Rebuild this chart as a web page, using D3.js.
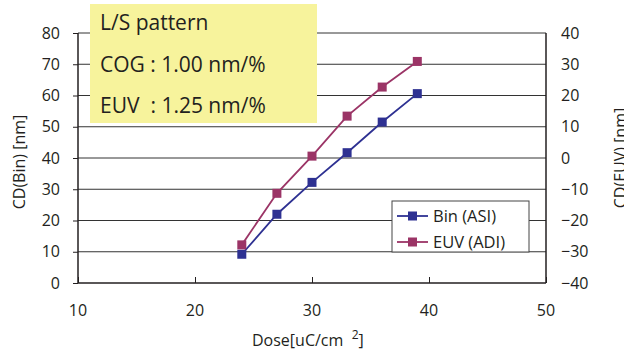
<!DOCTYPE html>
<html>
<head>
<meta charset="utf-8">
<script src="https://cdn.jsdelivr.net/npm/d3@7"></script>
<style>
  body { margin: 0; background: #fff; }
  text { font-family: "Open Sans", "DejaVu Sans", sans-serif; fill: #231f20; }
</style>
</head>
<body>
<svg width="624" height="353"></svg>
<script>
// Dose values (uC/cm2) shared by both series
const dose = [24, 27, 30, 33, 36, 39];
// CD(Bin) on the left axis
const binASI = [9.2, 22.0, 32.2, 41.7, 51.5, 60.6];
// CD(EUV) on the right axis
const euvADI = [-27.8, -11.3, 0.6, 13.4, 22.7, 30.9];

const xTicks = [10, 20, 30, 40, 50];
const leftTicks = [0, 10, 20, 30, 40, 50, 60, 70, 80];
const rightTicks = [-40, -30, -20, -10, 0, 10, 20, 30, 40];
const noteLines = ["L/S pattern", "COG : 1.00 nm/%", "EUV  : 1.25 nm/%"];
const seriesNames = ["Bin (ASI)", "EUV (ADI)"];

const blue = "#2e3192";
const purple = "#9b3466";

const svg = d3.select("svg");
const margin = {top: 33, right: 78, bottom: 70, left: 78};
const width = +svg.attr("width");
const height = +svg.attr("height");

const x = d3.scaleLinear().domain([10, 50]).range([margin.left, width - margin.right]);
const yL = d3.scaleLinear().domain([0, 80]).range([height - margin.bottom, margin.top]);
const yR = d3.scaleLinear().domain([-40, 40]).range([height - margin.bottom, margin.top]);

// gridlines
svg.append("g")
  .selectAll("line")
  .data(leftTicks.slice(1))
  .enter().append("line")
    .attr("x1", x(10)).attr("x2", x(50))
    .attr("y1", d => yL(d)).attr("y2", d => yL(d))
    .attr("stroke", "#333").attr("stroke-width", 1);

// frame: left, right, bottom
const frame = svg.append("g").attr("stroke", "#231f20").attr("stroke-width", 1.5);
frame.append("line").attr("x1", x(10)).attr("x2", x(10)).attr("y1", yL(80)).attr("y2", yL(0));
frame.append("line").attr("x1", x(50)).attr("x2", x(50)).attr("y1", yL(80)).attr("y2", yL(0));
frame.append("line").attr("x1", x(10)).attr("x2", x(50)).attr("y1", yL(0)).attr("y2", yL(0));

// axes
const xAxis = svg.append("g")
    .attr("transform", `translate(0,${yL(0)})`)
    .call(d3.axisTop(x).tickValues(xTicks).tickSize(6).tickFormat(""));
xAxis.select(".domain").remove();
xAxis.selectAll("line").attr("stroke", "#231f20");
svg.append("g").selectAll("text")
  .data(xTicks)
  .enter().append("text")
    .attr("x", d => x(d)).attr("y", yL(0) + 33)
    .attr("text-anchor", "middle").attr("font-size", "16px")
    .text(d => d);

const leftAxis = svg.append("g")
    .attr("transform", `translate(${x(10)},0)`)
    .call(d3.axisLeft(yL).tickValues(leftTicks).tickSize(5).tickPadding(13));
leftAxis.select(".domain").remove();
leftAxis.selectAll("line").attr("stroke", "#231f20");
leftAxis.selectAll("text").attr("font-size", "16px").attr("fill", "#231f20")
  .style("font-family", "'Open Sans', sans-serif");

const rightAxis = svg.append("g")
    .attr("transform", `translate(${x(50)},0)`)
    .call(d3.axisRight(yR).tickValues(rightTicks).tickSize(0).tickPadding(15));
rightAxis.select(".domain").remove();
rightAxis.selectAll("text").attr("font-size", "16px").attr("fill", "#231f20")
  .style("font-family", "'Open Sans', sans-serif");

// axis titles
svg.append("text")
  .attr("transform", `translate(25,${(yL(0) + yL(80)) / 2 + 4}) rotate(-90)`)
  .attr("text-anchor", "middle").attr("font-size", "16px")
  .text("CD(Bin) [nm]");
svg.append("text")
  .attr("transform", `translate(626,${(yL(0) + yL(80)) / 2}) rotate(-90)`)
  .attr("text-anchor", "middle").attr("font-size", "16px")
  .text("CD(EUV) [nm]");
const xt = svg.append("text")
  .attr("x", 252).attr("y", 346).attr("font-size", "16px")
  .attr("xml:space", "preserve").style("white-space", "pre");
xt.append("tspan").text("Dose[uC/cm  ");
xt.append("tspan").attr("dy", -7).attr("font-size", "12px").text("2");
xt.append("tspan").attr("dy", 7).text("]");

// series
const binData = dose.map((d, i) => ({x: d, y: binASI[i]}));
const euvData = dose.map((d, i) => ({x: d, y: euvADI[i]}));

function drawSeries(data, yScale, color) {
  const line = d3.line().x(d => x(d.x)).y(d => yScale(d.y));
  svg.append("path").datum(data)
    .attr("d", line).attr("fill", "none")
    .attr("stroke", color).attr("stroke-width", 1.8);
  svg.append("g").selectAll("rect")
    .data(data)
    .enter().append("rect")
      .attr("x", d => x(d.x) - 4.5).attr("y", d => yScale(d.y) - 4.5)
      .attr("width", 9).attr("height", 9)
      .attr("fill", color);
}
drawSeries(binData, yL, blue);
drawSeries(euvData, yR, purple);

// note box
svg.append("rect")
  .attr("x", 90).attr("y", 4).attr("width", 227).attr("height", 119)
  .attr("fill", "#f7f39c");
svg.append("g").selectAll("text")
  .data(noteLines)
  .enter().append("text")
    .attr("x", 100).attr("y", (d, i) => 30 + i * 41.5)
    .attr("font-size", "21px").attr("xml:space", "preserve")
    .style("white-space", "pre")
    .text(d => d);

// legend
const legend = svg.append("g").attr("transform", "translate(392,201)");
legend.append("rect")
  .attr("width", 137).attr("height", 51)
  .attr("fill", "#fff").attr("stroke", "#444").attr("stroke-width", 1);
[blue, purple].forEach((c, i) => {
  const yy = 15 + i * 26;
  legend.append("line").attr("x1", 5).attr("x2", 36).attr("y1", yy).attr("y2", yy)
    .attr("stroke", c).attr("stroke-width", 1.8);
  legend.append("rect").attr("x", 16).attr("y", yy - 4.5).attr("width", 9).attr("height", 9)
    .attr("fill", c);
  legend.append("text").attr("x", 41).attr("y", yy + 6)
    .attr("font-size", "16.5px").text(seriesNames[i]);
});
</script>
</body>
</html>
